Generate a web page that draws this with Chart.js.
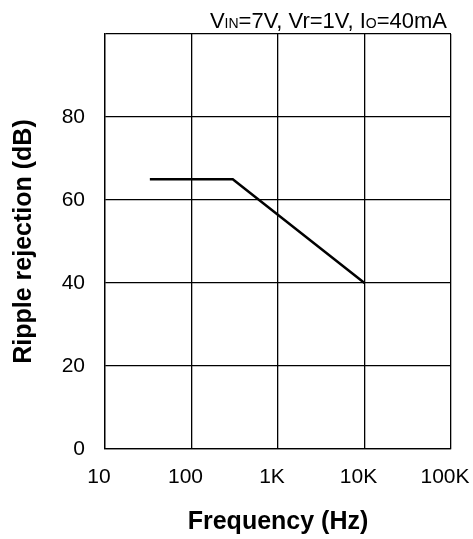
<!DOCTYPE html>
<html lang="en">
<head>
  <meta charset="UTF-8">
  <title>Ripple rejection</title>
  <script src="https://cdn.jsdelivr.net/npm/chart.js"></script>
  <style>
    body { margin: 0; background: #fff; }
    canvas { display: block; }
  </style>
</head>
<body>
  <canvas id="rippleChart" width="473" height="539"></canvas>

  <script>
// data
const freqHz = [33, 300, 10000];
const rippleDb = [65, 65, 40];
const xTickValues = [10, 100, 1000, 10000, 100000];
const xTickLabels = ['10', '100', '1K', '10K', '100K'];
const yTickValues = [0, 20, 40, 60, 80, 100];
const yTickLabels = ['0', '20', '40', '60', '80', ''];
// condition text: [text, small?]
const conditionParts = [['V', false], ['IN', true], ['=7V, Vr=1V, I', false], ['O', true], ['=40mA', false]];

const FONT = '"Liberation Sans", Arial, Helvetica, sans-serif';

// draws the test condition line in the top right, with small subscripts
const conditionPlugin = {
  id: 'conditions',
  afterDraw(chart) {
    const ctx = chart.ctx;
    const big = '22px ' + FONT;
    const small = '14px ' + FONT;
    ctx.save();
    let total = 0;
    conditionParts.forEach(p => {
      ctx.font = p[1] ? small : big;
      total += ctx.measureText(p[0]).width;
    });
    let x = 447 - total;
    ctx.fillStyle = '#000';
    ctx.textBaseline = 'alphabetic';
    conditionParts.forEach(p => {
      ctx.font = p[1] ? small : big;
      ctx.fillText(p[0], x, 28);
      x += ctx.measureText(p[0]).width;
    });
    ctx.restore();
  }
};

const ctx = document.getElementById('rippleChart').getContext('2d');
new Chart(ctx, {
  type: 'line',
  data: {
    datasets: [{
      data: freqHz.map((f, i) => ({ x: f, y: rippleDb[i] })),
      borderColor: '#000',
      borderWidth: 2.5,
      pointRadius: 0,
      fill: false,
      tension: 0
    }]
  },
  options: {
    responsive: false,
    animation: false,
    layout: { padding: { top: 34, right: 22, left: 0, bottom: 0 } },
    plugins: { legend: { display: false }, tooltip: { enabled: false } },
    scales: {
      x: {
        type: 'logarithmic',
        min: 10,
        max: 100000,
        afterBuildTicks: axis => { axis.ticks = xTickValues.map(v => ({ value: v })); },
        afterFit: axis => {
          axis.height = 90;
          axis.paddingLeft = 0;
          axis.paddingRight = 0;
        },
        grid: { color: '#000', lineWidth: 1.3, drawTicks: false },
        border: { color: '#000', width: 1.3 },
        ticks: {
          padding: 16,
          labelOffset: -6,
          color: '#000',
          font: { family: FONT, size: 21 },
          maxRotation: 0,
          autoSkip: false,
          callback: (v) => {
            const i = xTickValues.indexOf(v);
            return i >= 0 ? xTickLabels[i] : '';
          }
        },
        title: {
          display: true,
          text: 'Frequency (Hz)',
          color: '#000',
          font: { family: FONT, size: 25, weight: 'bold' },
          padding: { top: 0, bottom: 2 }
        }
      },
      y: {
        min: 0,
        max: 100,
        afterBuildTicks: axis => { axis.ticks = yTickValues.map(v => ({ value: v })); },
        afterFit: axis => {
          axis.width = 105;
          axis.paddingTop = 0;
          axis.paddingBottom = 0;
        },
        grid: { color: '#000', lineWidth: 1.3, drawTicks: false },
        border: { color: '#000', width: 1.3 },
        ticks: {
          padding: 20,
          color: '#000',
          font: { family: FONT, size: 21 },
          callback: (v) => {
            const i = yTickValues.indexOf(v);
            return i >= 0 ? yTickLabels[i] : '';
          }
        },
        title: {
          display: true,
          text: 'Ripple rejection (dB)',
          color: '#000',
          font: { family: FONT, size: 25, weight: 'bold' },
          padding: { top: 9, bottom: 0 }
        }
      }
    }
  },
  plugins: [conditionPlugin]
});
  </script>
</body>
</html>
